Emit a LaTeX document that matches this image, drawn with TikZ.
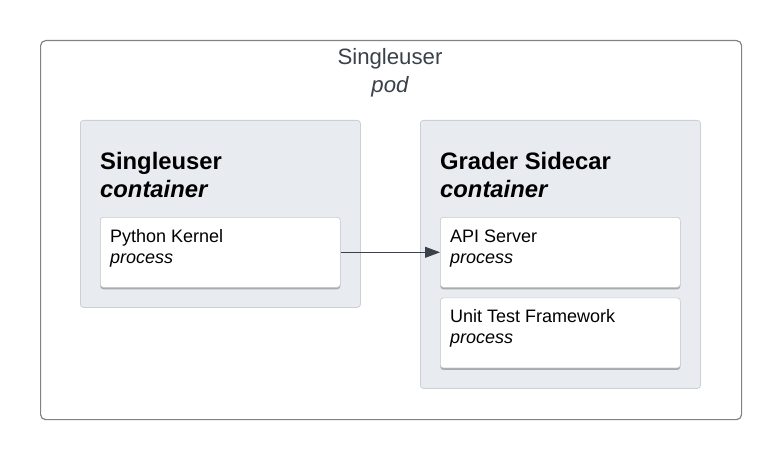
\documentclass[tikz,border=0pt]{standalone}
\usepackage{fontspec}
\setmainfont{Liberation Sans}
\usepackage{xcolor}
\usepackage{tikz}
\usetikzlibrary{positioning,shadows,arrows.meta}

\definecolor{podline}{HTML}{7E8289}
\definecolor{podtext}{HTML}{3A414A}
\definecolor{ctrfill}{HTML}{E8EBEF}
\definecolor{ctrline}{HTML}{CBD0D6}
\definecolor{procline}{HTML}{C6CACF}
\definecolor{arrowline}{HTML}{3A414A}

\begin{document}
\begin{tikzpicture}[x=1pt,y=-1pt,
  pod/.style={draw=podline, line width=1.2pt, rounded corners=5pt, anchor=north west,
    inner sep=0pt, minimum width=701pt, minimum height=379pt},
  ctr/.style={draw=ctrline, fill=ctrfill, line width=0.8pt, rounded corners=3pt,
    anchor=north west, inner sep=0pt, minimum width=280pt},
  proc/.style={draw=procline, fill=white, line width=0.6pt, rounded corners=3pt,
    anchor=north west, inner sep=0pt, minimum width=240pt, minimum height=70pt,
    drop shadow={shadow xshift=0pt, shadow yshift=-2pt, opacity=0.4, fill=black!70}},
  podtitle/.style={text=podtext, font=\fontsize{22.2}{26}\selectfont, inner sep=0pt, anchor=base},
  ctrtitle/.style={text=black, font=\fontsize{23.8}{28}\selectfont\bfseries, inner sep=0pt, anchor=base west},
  proctext/.style={text=black, font=\fontsize{18}{21}\selectfont, inner sep=0pt, anchor=base west},
  link/.style={draw=arrowline, line width=0.9pt, -{Triangle[length=15pt,width=11pt]}}]

  \useasboundingbox (0,0) rectangle (780,460);

  % pod
  \node[pod] (pod) at (40,40) {};
  \node[podtitle] (podname) at (390,65) {Singleuser};
  \node[podtitle, font=\fontsize{22.2}{26}\selectfont\itshape] (podkind) at (390,93) {pod};

  % singleuser container
  \node[ctr, minimum height=187pt] (user) at (80,120) {};
  \node[ctrtitle] (username) at ([xshift=20pt,yshift=-49pt]user.north west) {Singleuser};
  \node[ctrtitle, font=\fontsize{23.8}{28}\selectfont\bfseries\itshape] (userkind) at ([yshift=-28pt]username.base west) {container};
  \node[proc] (kernel) at (100,217) {};
  \node[proctext] (kernelname) at ([xshift=10pt,yshift=-25pt]kernel.north west) {Python Kernel};
  \node[proctext, font=\fontsize{18}{21}\selectfont\itshape] (kernelkind) at ([yshift=-21pt]kernelname.base west) {process};

  % grader sidecar container
  \node[ctr, minimum height=268pt] (grader) at (420,120) {};
  \node[ctrtitle] (gradername) at ([xshift=20pt,yshift=-49pt]grader.north west) {Grader Sidecar};
  \node[ctrtitle, font=\fontsize{23.8}{28}\selectfont\bfseries\itshape] (graderkind) at ([yshift=-28pt]gradername.base west) {container};
  \node[proc] (api) at (440,217) {};
  \node[proctext] (apiname) at ([xshift=10pt,yshift=-25pt]api.north west) {API Server};
  \node[proctext, font=\fontsize{18}{21}\selectfont\itshape] (apikind) at ([yshift=-21pt]apiname.base west) {process};
  \node[proc, below=10pt of api] (unit) {};
  \node[proctext] (unitname) at ([xshift=10pt,yshift=-25pt]unit.north west) {Unit Test Framework};
  \node[proctext, font=\fontsize{18}{21}\selectfont\itshape] (unitkind) at ([yshift=-21pt]unitname.base west) {process};

  \draw[link] (kernel.east) -- (api.west);
\end{tikzpicture}
\end{document}
